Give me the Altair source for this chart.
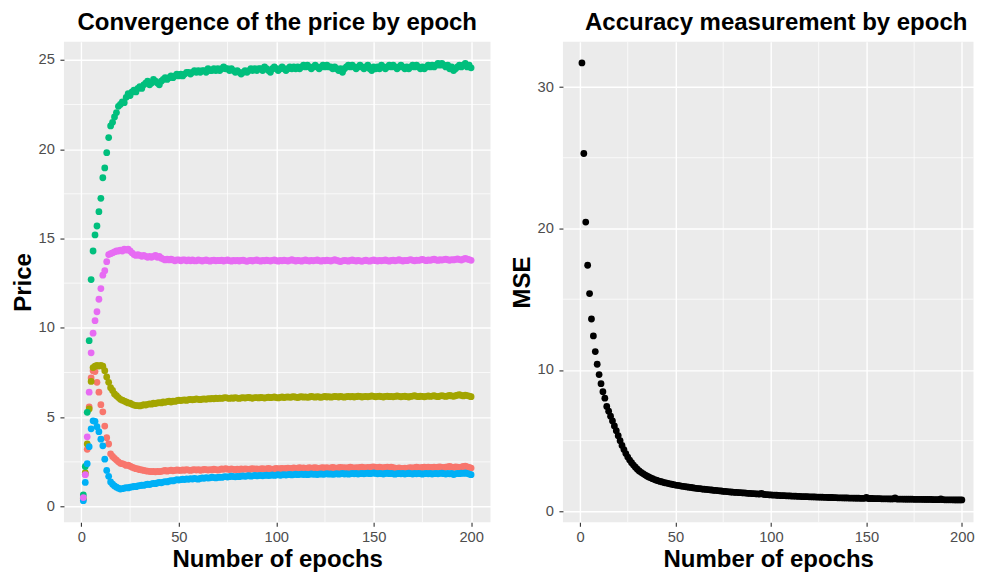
import altair as alt
import pandas as pd

epochs = list(range(1, 201))

price_red = [
    0.42, 1.8, 3.2, 5.57, 7.2, 7.6, 7.55, 6.95, 6.4, 5.7,
    5.3, 4.5, 3.85, 3.5, 2.95, 2.8, 2.7, 2.6, 2.5, 2.42,
    2.4, 2.36, 2.3, 2.32, 2.26, 2.2, 2.16, 2.12, 2.1, 2.06,
    2.05, 2.02, 2.0, 1.98, 1.97, 1.95, 1.96, 1.94, 1.97, 1.95,
    1.97, 1.99, 2.02, 1.98, 2.01, 2.03, 2.0, 2.02, 2.05, 2.03,
    2.02, 2.05, 2.03, 2.06, 2.04, 2.02, 2.05, 2.07, 2.04, 2.06,
    2.03, 2.05, 2.08, 2.06, 2.04, 2.07, 2.05, 2.09, 2.06, 2.04,
    2.07, 2.1, 2.08, 2.12, 2.09, 2.07, 2.1, 2.08, 2.06, 2.09,
    2.07, 2.1, 2.08, 2.11, 2.09, 2.07, 2.1, 2.12, 2.09, 2.11,
    2.08, 2.1, 2.12, 2.09, 2.11, 2.13, 2.1, 2.08, 2.11, 2.13,
    2.1, 2.12, 2.14, 2.11, 2.13, 2.15, 2.12, 2.14, 2.16, 2.13,
    2.15, 2.17, 2.14, 2.16, 2.13, 2.15, 2.17, 2.14, 2.16, 2.18,
    2.15, 2.13, 2.16, 2.18, 2.15, 2.17, 2.14, 2.16, 2.19, 2.16,
    2.14, 2.17, 2.19, 2.16, 2.18, 2.15, 2.17, 2.2, 2.17, 2.15,
    2.18, 2.16, 2.19, 2.21, 2.18, 2.16, 2.19, 2.17, 2.2, 2.22,
    2.19, 2.17, 2.2, 2.18, 2.16, 2.19, 2.21, 2.18, 2.2, 2.17,
    2.15, 2.13, 2.16, 2.14, 2.12, 2.15, 2.13, 2.16, 2.18, 2.15,
    2.17, 2.2, 2.18, 2.16, 2.19, 2.21, 2.18, 2.2, 2.17, 2.19,
    2.21, 2.18, 2.2, 2.22, 2.19, 2.17, 2.2, 2.22, 2.24, 2.21,
    2.19, 2.22, 2.2, 2.18, 2.21, 2.24, 2.26, 2.22, 2.19, 2.15,
]

price_olive = [
    0.45, 1.9, 3.5, 5.46, 7.0, 7.78, 7.85, 7.9, 7.86, 7.9,
    7.85, 7.6, 7.25, 6.95, 6.65, 6.5, 6.3, 6.2, 6.1, 6.0,
    5.95, 5.9, 5.85, 5.8, 5.78, 5.72, 5.68, 5.65, 5.65, 5.63,
    5.66, 5.7, 5.68, 5.72, 5.75, 5.73, 5.78, 5.76, 5.8, 5.82,
    5.8, 5.85, 5.83, 5.87, 5.9, 5.85, 5.9, 5.88, 5.92, 5.95,
    5.93, 5.95, 5.97, 5.94, 5.98, 6.0, 5.97, 5.99, 6.02, 6.0,
    5.98, 6.01, 6.03, 6.0, 6.04, 6.02, 6.05, 6.03, 6.06, 6.04,
    6.07, 6.05, 6.08, 6.1, 6.07, 6.05, 6.08, 6.06, 6.09, 6.07,
    6.05, 6.08, 6.1, 6.07, 6.09, 6.11, 6.08, 6.06, 6.09, 6.1,
    6.08, 6.11, 6.09, 6.07, 6.1, 6.12, 6.09, 6.11, 6.13, 6.1,
    6.08, 6.11, 6.13, 6.1, 6.12, 6.14, 6.11, 6.13, 6.15, 6.12,
    6.1, 6.13, 6.15, 6.12, 6.14, 6.11, 6.13, 6.16, 6.14, 6.12,
    6.15, 6.13, 6.11, 6.14, 6.16, 6.13, 6.15, 6.12, 6.14, 6.17,
    6.15, 6.13, 6.16, 6.14, 6.12, 6.15, 6.17, 6.14, 6.16, 6.13,
    6.15, 6.18, 6.16, 6.13, 6.15, 6.17, 6.14, 6.16, 6.19, 6.17,
    6.14, 6.16, 6.18, 6.15, 6.13, 6.16, 6.18, 6.15, 6.17, 6.14,
    6.16, 6.19, 6.17, 6.14, 6.16, 6.18, 6.15, 6.13, 6.16, 6.18,
    6.2, 6.17, 6.15, 6.18, 6.16, 6.14, 6.17, 6.19, 6.16, 6.18,
    6.2, 6.17, 6.15, 6.18, 6.21, 6.18, 6.16, 6.19, 6.22, 6.19,
    6.17, 6.2, 6.23, 6.26, 6.22, 6.19, 6.24, 6.21, 6.18, 6.15,
]

price_green = [
    0.65, 2.24, 5.27, 9.28, 12.7, 14.3, 15.2, 15.7, 16.5, 17.25,
    18.4, 18.95, 19.8, 20.65, 21.3, 21.5, 21.8, 22.05, 22.4, 22.5,
    22.65, 22.6, 22.9, 23.1, 23.0, 23.2, 23.3, 23.2, 23.4, 23.5,
    23.4, 23.6, 23.7, 23.8, 23.6, 23.7, 23.9, 23.8, 23.7, 23.6,
    23.8, 23.9, 24.0, 23.9, 24.0, 24.1, 24.0, 24.1, 24.2, 24.1,
    24.2, 24.1, 24.2, 24.3, 24.3, 24.2, 24.3, 24.4, 24.3, 24.4,
    24.3, 24.4, 24.4, 24.3, 24.5, 24.4, 24.4, 24.5, 24.4, 24.5,
    24.4, 24.5, 24.6, 24.5, 24.5, 24.4, 24.5, 24.4, 24.3, 24.4,
    24.3, 24.2, 24.3, 24.4, 24.3, 24.4, 24.5, 24.4, 24.5, 24.4,
    24.5, 24.5, 24.4, 24.6, 24.5, 24.4, 24.3, 24.5, 24.6, 24.5,
    24.4, 24.5, 24.6, 24.5, 24.4, 24.5, 24.6, 24.5, 24.6, 24.5,
    24.6, 24.5, 24.6, 24.7, 24.6, 24.7, 24.6, 24.5, 24.6, 24.7,
    24.6, 24.5, 24.6, 24.7, 24.6, 24.7, 24.6, 24.6, 24.5, 24.6,
    24.5, 24.4, 24.5, 24.3, 24.5, 24.6, 24.7, 24.6, 24.7, 24.6,
    24.5, 24.6, 24.7, 24.6, 24.5, 24.6, 24.7, 24.5, 24.4, 24.6,
    24.5, 24.6, 24.5, 24.7, 24.6, 24.5, 24.6, 24.7, 24.6, 24.7,
    24.6, 24.5, 24.6, 24.7, 24.6, 24.5, 24.6, 24.5, 24.6, 24.7,
    24.6, 24.7, 24.6, 24.5, 24.6, 24.5, 24.6, 24.7, 24.6, 24.7,
    24.6, 24.7, 24.8, 24.7, 24.8, 24.7, 24.6, 24.7, 24.5, 24.6,
    24.4, 24.5, 24.6, 24.7, 24.6, 24.7, 24.8, 24.6, 24.7, 24.55,
]

price_blue = [
    0.33, 1.35, 2.4, 3.35, 4.35, 4.8, 4.77, 4.47, 4.19, 3.77,
    3.4, 2.65, 2.02, 1.69, 1.38, 1.25, 1.15, 1.08, 1.03, 0.98,
    1.0, 1.03, 1.06, 1.04, 1.08, 1.1, 1.13, 1.11, 1.15, 1.17,
    1.2, 1.18, 1.22, 1.25, 1.23, 1.27, 1.3, 1.28, 1.32, 1.35,
    1.33, 1.37, 1.4, 1.38, 1.42, 1.45, 1.43, 1.47, 1.5, 1.48,
    1.5, 1.53, 1.51, 1.55, 1.52, 1.56, 1.54, 1.58, 1.55, 1.53,
    1.57, 1.6, 1.58, 1.62, 1.59, 1.61, 1.64, 1.62, 1.6, 1.63,
    1.65, 1.63, 1.66, 1.68, 1.65, 1.67, 1.7, 1.68, 1.66, 1.69,
    1.67, 1.7, 1.72, 1.69, 1.71, 1.73, 1.7, 1.72, 1.74, 1.71,
    1.73, 1.75, 1.72, 1.74, 1.76, 1.73, 1.75, 1.77, 1.74, 1.76,
    1.78, 1.75, 1.77, 1.79, 1.76, 1.78, 1.8, 1.77, 1.79, 1.81,
    1.78, 1.8, 1.82, 1.79, 1.81, 1.78, 1.8, 1.83, 1.8, 1.82,
    1.79, 1.81, 1.83, 1.8, 1.82, 1.84, 1.81, 1.83, 1.8, 1.82,
    1.84, 1.81, 1.83, 1.85, 1.82, 1.84, 1.81, 1.83, 1.86, 1.83,
    1.85, 1.82, 1.84, 1.86, 1.83, 1.85, 1.87, 1.84, 1.86, 1.88,
    1.85, 1.83, 1.86, 1.84, 1.82, 1.85, 1.87, 1.84, 1.86, 1.83,
    1.81, 1.84, 1.86, 1.83, 1.85, 1.82, 1.84, 1.87, 1.84, 1.82,
    1.85, 1.83, 1.86, 1.84, 1.81, 1.84, 1.86, 1.83, 1.85, 1.82,
    1.84, 1.86, 1.83, 1.85, 1.87, 1.84, 1.82, 1.85, 1.83, 1.86,
    1.79, 1.83, 1.86, 1.84, 1.87, 1.85, 1.88, 1.85, 1.82, 1.78,
]

price_magenta = [
    0.5, 1.78, 3.9, 6.4, 8.6, 9.7, 10.4, 10.9, 11.6, 12.2,
    12.95, 13.2, 13.7, 14.1, 14.15, 14.2, 14.25, 14.3, 14.3, 14.35,
    14.3, 14.4, 14.35, 14.4, 14.3, 14.2, 14.1, 14.05, 14.1, 14.05,
    14.0, 14.05, 14.0, 13.95, 14.0, 13.95, 14.0, 14.05, 13.95, 14.0,
    13.9, 13.85, 13.8, 13.85, 13.8, 13.85, 13.8, 13.75, 13.8, 13.8,
    13.75, 13.8, 13.8, 13.75, 13.8, 13.75, 13.8, 13.75, 13.75, 13.8,
    13.78, 13.74, 13.77, 13.8, 13.76, 13.73, 13.77, 13.79, 13.75, 13.78,
    13.76, 13.79, 13.74, 13.77, 13.8, 13.76, 13.73, 13.77, 13.75, 13.78,
    13.74, 13.77, 13.79, 13.75, 13.72, 13.76, 13.78, 13.74, 13.77, 13.8,
    13.76, 13.73, 13.77, 13.75, 13.79, 13.76, 13.74, 13.78, 13.8, 13.76,
    13.73, 13.77, 13.75, 13.79, 13.76, 13.74, 13.78, 13.81, 13.77, 13.74,
    13.78, 13.76, 13.73, 13.77, 13.8, 13.76, 13.74, 13.78, 13.75, 13.77,
    13.8, 13.76, 13.73, 13.77, 13.75, 13.79, 13.76, 13.74, 13.78, 13.81,
    13.77, 13.74, 13.71, 13.75, 13.78, 13.76, 13.73, 13.77, 13.8, 13.76,
    13.74, 13.78, 13.75, 13.72, 13.76, 13.79, 13.75, 13.73, 13.77, 13.8,
    13.76, 13.74, 13.78, 13.75, 13.77, 13.8, 13.76, 13.73, 13.77, 13.79,
    13.75, 13.78, 13.81, 13.77, 13.74, 13.78, 13.76, 13.79, 13.82, 13.78,
    13.75, 13.79, 13.77, 13.8, 13.83, 13.79, 13.76, 13.8, 13.78, 13.81,
    13.84, 13.8, 13.77, 13.81, 13.79, 13.82, 13.85, 13.81, 13.78, 13.82,
    13.8, 13.83, 13.86, 13.82, 13.79, 13.84, 13.88, 13.85, 13.82, 13.78,
]

mse_values = [
    31.7, 25.3, 20.45, 17.4, 15.4, 13.6, 12.4, 11.3, 10.4, 9.67,
    9.03, 8.46, 8.0, 7.42, 7.08, 6.73, 6.39, 6.04, 5.7, 5.35,
    5.0, 4.66, 4.37, 4.09, 3.84, 3.63, 3.44, 3.27, 3.12, 2.98,
    2.86, 2.76, 2.67, 2.58, 2.5, 2.43, 2.37, 2.31, 2.25, 2.2,
    2.16, 2.12, 2.08, 2.04, 2.01, 1.98, 1.95, 1.92, 1.89, 1.86,
    1.84, 1.82, 1.79, 1.77, 1.75, 1.73, 1.71, 1.69, 1.67, 1.65,
    1.63, 1.61, 1.6, 1.58, 1.57, 1.55, 1.54, 1.52, 1.51, 1.49,
    1.48, 1.47, 1.45, 1.44, 1.42, 1.41, 1.4, 1.38, 1.37, 1.36,
    1.35, 1.34, 1.33, 1.32, 1.31, 1.3, 1.29, 1.28, 1.27, 1.26,
    1.25, 1.24, 1.23, 1.22, 1.28, 1.21, 1.19, 1.18, 1.17, 1.16,
    1.15, 1.15, 1.14, 1.13, 1.12, 1.12, 1.11, 1.1, 1.1, 1.09,
    1.08, 1.08, 1.07, 1.06, 1.06, 1.05, 1.05, 1.04, 1.04, 1.03,
    1.03, 1.02, 1.02, 1.01, 1.01, 1.0, 1.0, 0.99, 0.99, 0.98,
    0.98, 0.98, 0.97, 0.97, 0.96, 0.96, 0.96, 0.95, 0.95, 0.95,
    0.94, 0.94, 0.94, 0.93, 0.93, 0.93, 0.92, 0.92, 0.92, 0.98,
    0.91, 0.91, 0.91, 0.9, 0.9, 0.9, 0.9, 0.89, 0.89, 0.89,
    0.89, 0.88, 0.88, 0.88, 0.95, 0.87, 0.87, 0.87, 0.87, 0.86,
    0.86, 0.86, 0.86, 0.86, 0.85, 0.85, 0.85, 0.85, 0.85, 0.84,
    0.84, 0.84, 0.84, 0.84, 0.83, 0.83, 0.83, 0.83, 0.88, 0.83,
    0.82, 0.82, 0.82, 0.82, 0.82, 0.81, 0.81, 0.81, 0.81, 0.81,
]

series_names = ["s1", "s2", "s3", "s4", "s5"]
series_colors = ["#F8766D", "#A3A500", "#00BF7D", "#00B0F6", "#E76BF3"]

x_ticks = [0, 50, 100, 150, 200]
x_minor = [25, 75, 125, 175]
price_ticks = [0, 5, 10, 15, 20, 25]
price_minor = [2.5, 7.5, 12.5, 17.5, 22.5]
mse_ticks = [0, 10, 20, 30]
mse_minor = [5, 15, 25]

rows = []
for name, vals in zip(series_names, [price_red, price_olive, price_green, price_blue, price_magenta]):
    for e, v in zip(epochs, vals):
        rows.append({"epoch": e, "price": v, "series": name})
price_df = pd.DataFrame(rows)
mse_df = pd.DataFrame({"epoch": epochs, "mse": mse_values})

FONT = "Liberation Sans"
PANEL_H = 481

x_scale_left = alt.Scale(domain=[-8.95, 209.95], nice=False, zero=False)
x_scale_right = alt.Scale(domain=[-8.95, 206.1], nice=False, zero=False)
price_scale = alt.Scale(domain=[-0.88, 26.01], nice=False, zero=False)
mse_scale = alt.Scale(domain=[-0.77, 33.2], nice=False, zero=False)


def axis(values, title, orient):
    return alt.Axis(
        values=values, title=title, grid=True, gridColor="white", gridWidth=1.4,
        domain=False, ticks=True, tickColor="#333333", tickWidth=1.1, tickSize=4,
        labelFont=FONT, labelFontSize=14.7, labelColor="#4D4D4D",
        labelPadding=5.5 if orient == "left" else 3.5,
        titleFont=FONT, titleFontSize=24, titleFontWeight="bold", titleColor="black",
        titlePadding=3 if orient == "left" else 3.5,
    )


def panel(df, xscale, width, yfield, yscale, yticks, ytitle, yminor, title_text,
          title_dx=0, color_enc=None, point_color=None):
    x_axis = axis(x_ticks, "Number of epochs", "bottom")
    y_axis = axis(yticks, ytitle, "left")
    vx = alt.Chart(pd.DataFrame({"epoch": x_minor})).mark_rule(color="white", strokeWidth=0.7).encode(
        x=alt.X("epoch:Q", scale=xscale, axis=x_axis)
    )
    hy = alt.Chart(pd.DataFrame({yfield: yminor})).mark_rule(color="white", strokeWidth=0.7).encode(
        y=alt.Y(f"{yfield}:Q", scale=yscale, axis=y_axis)
    )
    mark_kwargs = {"size": 46, "opacity": 1}
    if point_color:
        mark_kwargs["color"] = point_color
    enc = {
        "x": alt.X("epoch:Q", scale=xscale, axis=x_axis),
        "y": alt.Y(f"{yfield}:Q", scale=yscale, axis=y_axis),
    }
    if color_enc is not None:
        enc["color"] = color_enc
    pts = alt.Chart(df).mark_circle(**mark_kwargs).encode(**enc)
    return alt.layer(vx, hy, pts).properties(
        width=width, height=PANEL_H,
        title=alt.TitleParams(
            text=title_text, font=FONT, fontSize=24, fontWeight="bold", color="black",
            anchor="middle", frame="group", offset=6.9, dx=title_dx,
        ),
    )


left = panel(
    price_df, x_scale_left, 427, "price", price_scale, price_ticks, "Price", price_minor,
    "Convergence of the price by epoch",
    color_enc=alt.Color("series:N", scale=alt.Scale(domain=series_names, range=series_colors), legend=None),
)
right = panel(
    mse_df, x_scale_right, 411, "mse", mse_scale, mse_ticks, "MSE", mse_minor,
    "Accuracy measurement by epoch", title_dx=8, point_color="black",
)

chart = alt.hconcat(left, right, spacing=18.5).properties(
    padding={"left": 3, "top": 1.5, "right": 0, "bottom": 0}, background="white"
).configure_view(fill="#EBEBEB", stroke=None)

chart.save("out.html", embed_options={"renderer": "svg", "actions": False})
